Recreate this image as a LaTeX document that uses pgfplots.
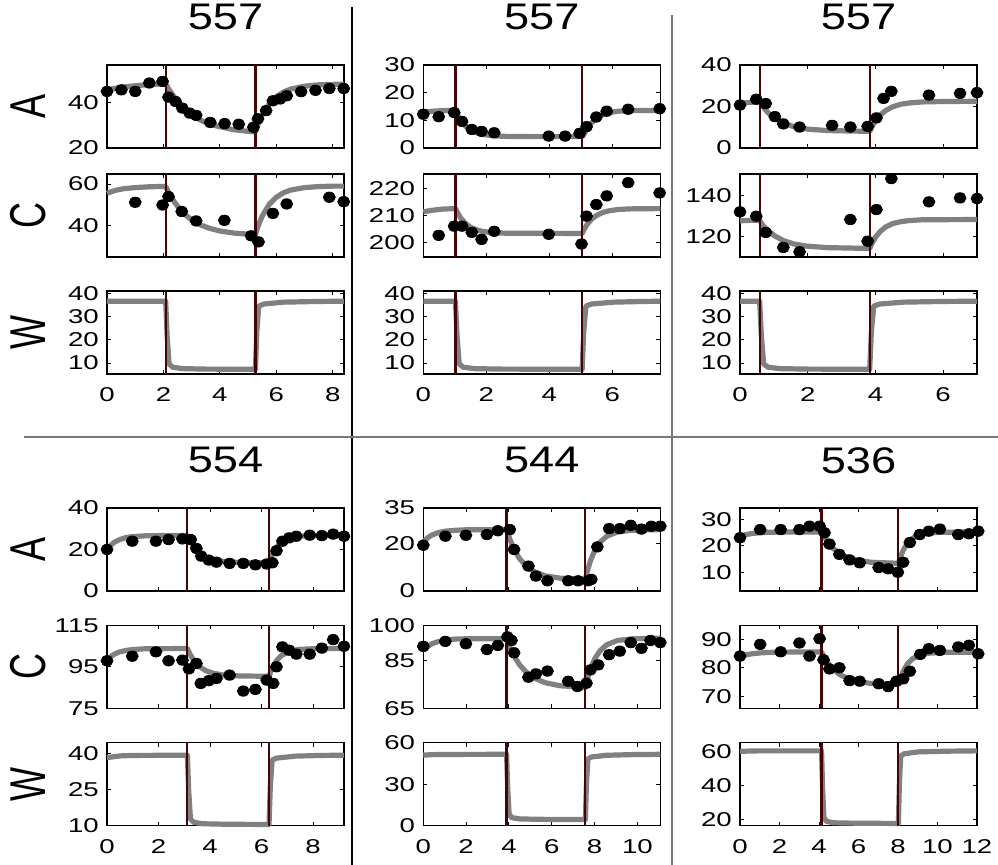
\documentclass[border=0pt]{standalone}
\usepackage{fontspec}
\setmainfont{Liberation Sans}
\usepackage{graphicx}
\usepackage{pgfplots}
\pgfplotsset{compat=1.18}
\newfontfamily\tickfam[FakeStretch=1.38]{Liberation Sans}
\newfontfamily\titfam[FakeStretch=1.22]{Liberation Sans}
\definecolor{mgray}{RGB}{128,128,128}
\definecolor{swred}{RGB}{70,5,5}
\definecolor{divgray}{RGB}{120,120,120}

\pgfplotsset{
  sub/.style={scale only axis, width=118.5pt, height=41.5pt, anchor=south west,
    clip=false, xmin=0, tick align=inside, xtick pos=both, ytick pos=both,
    major tick length=2pt, axis line style={line width=0.65pt},
    tick style={line width=0.5pt, black},
    ticklabel style={font=\tickfam\fontsize{10}{11}\selectfont},
    xticklabel style={yshift=-3.4pt}, yticklabel style={xshift=-0.6pt},
    /pgf/number format/assume math mode=true,
    ylabel style={at={(axis description cs:-0.333,0.5)}, anchor=center,
      font=\fontsize{18}{19}\selectfont},
    title style={at={(axis description cs:0.5,1.43)}, anchor=center,
      font=\titfam\fontsize{18.5}{19}\selectfont}},
  nox/.style={xticklabels={}},
  model/.style={no markers, line width=2.6pt, mgray, line join=round},
  sw/.style={no markers, line width=1.1pt, swred},
  dat/.style={only marks, mark=*, mark size=2.6pt, black, mark options={xscale=1.15}},
}
\newcommand{\lab}[1]{\scalebox{1}[1.4]{#1}}

\begin{document}
\begin{tikzpicture}
\path[use as bounding box] (0pt,0pt) rectangle (499pt,432.5pt);

% ---------- panel 1 (557) ----------
\begin{axis}[sub, nox, at={(53.5pt,358.5pt)}, xmax=8.4, ymin=20, ymax=56.4,
  xtick={0,2,4,6,8}, ytick={20,40}, ylabel={\lab{A}}, title={557}]
  \addplot[model] coordinates {(0,45.5) (0.5,46.6) (1.0,47.3) (1.5,47.8) (2.08,48.2) (2.2,45.6) (2.4,42.1) (2.6,39.0) (2.8,36.6) (3.0,34.7) (3.3,32.3) (3.6,30.6) (4.0,29.3) (4.5,28.0) (5.0,27.3) (5.26,27.0) (5.35,30.2) (5.5,34.4) (5.75,39.4) (6.0,42.5) (6.25,44.5) (6.5,45.8) (7.0,47.1) (7.5,47.7) (8.0,47.9) (8.4,48.0)};
  \addplot[sw] coordinates {(2.08,20) (2.08,56.4)};
  \addplot[sw] coordinates {(5.26,20) (5.26,56.4)};
  \addplot[dat] coordinates {(0,44.8) (0.51,45.5) (1.0,44.8) (1.5,48.5) (1.97,49.2) (2.18,42.3) (2.43,40.4) (2.67,37.5) (2.93,35.3) (3.16,34.3) (3.66,31.2) (4.17,30.7) (4.67,30.4) (5.19,29.1) (5.35,32.8) (5.64,36.4) (5.88,40.7) (6.14,41.5) (6.37,42.9) (6.88,44.7) (7.39,45.3) (7.88,46.1) (8.39,46.1)};
\end{axis}
\begin{axis}[sub, nox, at={(53.5pt,304pt)}, xmax=8.4, ymin=25.2, ymax=64.8,
  xtick={0,2,4,6,8}, ytick={40,60}, ylabel={\lab{C}}]
  \addplot[model] coordinates {(0,55.6) (0.3,57.0) (0.6,57.8) (1.0,58.3) (1.5,58.7) (2.08,58.9) (2.2,55.6) (2.4,51.2) (2.6,47.7) (2.8,45.1) (3.0,42.9) (3.3,40.6) (3.6,39.0) (4.0,37.6) (4.5,36.6) (5.0,36.1) (5.26,35.9) (5.35,39.7) (5.5,44.7) (5.75,50.3) (6.0,53.7) (6.25,55.8) (6.5,57.1) (7.0,58.3) (7.5,58.8) (8.0,59.0) (8.4,59.0)};
  \addplot[sw] coordinates {(2.08,25.2) (2.08,64.8)};
  \addplot[sw] coordinates {(5.26,25.2) (5.26,64.8)};
  \addplot[dat] coordinates {(1.0,51.3) (1.97,50.0) (2.18,54.0) (2.65,46.9) (3.16,42.4) (4.16,42.7) (5.11,35.3) (5.37,32.4) (5.88,46.0) (6.37,50.5) (7.88,53.7) (8.39,51.6)};
\end{axis}
\begin{axis}[sub, at={(53.5pt,245.5pt)}, xmax=8.4, ymin=5.3, ymax=41,
  xtick={0,2,4,6,8}, ytick={10,20,30,40}, ylabel={\lab{W}}]
  \addplot[model] coordinates {(0,36.6) (2.08,36.6) (2.13,22.0) (2.2,9.6) (2.33,8.2) (2.68,7.6) (3.5,7.4) (5.26,7.3) (5.31,23.4) (5.38,34.5) (5.56,35.4) (6.26,36.2) (7.5,36.5) (8.4,36.6)};
  \addplot[sw] coordinates {(2.08,5.3) (2.08,41)};
  \addplot[sw] coordinates {(5.26,5.3) (5.26,41)};
\end{axis}

% ---------- panel 2 (557) ----------
\begin{axis}[sub, nox, at={(211.65pt,358.5pt)}, xmax=7.52, ymin=0, ymax=30,
  xtick={0,2,4,6}, ytick={0,10,20,30}, title={557}]
  \addplot[model] coordinates {(0,13.0) (0.3,13.3) (0.6,13.5) (1.02,13.6) (1.1,11.7) (1.2,9.8) (1.35,7.8) (1.5,6.5) (1.7,5.4) (1.9,4.9) (2.2,4.4) (2.6,4.2) (3.5,4.1) (5.04,4.1) (5.1,5.0) (5.2,7.0) (5.35,9.2) (5.5,10.8) (5.7,12.1) (5.9,12.8) (6.2,13.3) (6.6,13.5) (7.52,13.6)};
  \addplot[sw] coordinates {(1.02,0) (1.02,30)};
  \addplot[sw] coordinates {(5.04,0) (5.04,30)};
  \addplot[dat] coordinates {(0,12.2) (0.49,11.3) (0.98,12.8) (1.23,9.6) (1.54,6.7) (1.85,6.0) (2.25,5.5) (3.98,4.3) (4.5,4.3) (4.96,5.3) (5.18,7.7) (5.49,11.2) (5.82,13.3) (6.5,14.0) (7.5,14.2)};
\end{axis}
\begin{axis}[sub, nox, at={(211.65pt,304pt)}, xmax=7.52, ymin=194.7, ymax=225.4,
  xtick={0,2,4,6}, ytick={200,210,220}]
  \addplot[model] coordinates {(0,211.4) (0.3,212.0) (0.6,212.4) (1.02,212.6) (1.1,210.8) (1.2,208.9) (1.35,207.0) (1.5,205.7) (1.7,204.7) (1.9,204.1) (2.2,203.7) (2.6,203.5) (5.04,203.4) (5.1,204.9) (5.2,206.8) (5.35,208.8) (5.5,210.1) (5.7,211.2) (5.9,211.8) (6.2,212.3) (6.6,212.5) (7.52,212.6)};
  \addplot[sw] coordinates {(1.02,194.7) (1.02,225.4)};
  \addplot[sw] coordinates {(5.04,194.7) (5.04,225.4)};
  \addplot[dat] coordinates {(0.49,202.7) (0.98,206.1) (1.23,206.1) (1.54,203.8) (1.85,201.2) (2.25,204.2) (3.98,203.1) (5.02,199.5) (5.18,209.8) (5.49,214.1) (5.82,217.3) (6.5,222.2) (7.5,218.4)};
\end{axis}
\begin{axis}[sub, at={(211.65pt,245.5pt)}, xmax=7.52, ymin=5.3, ymax=41,
  xtick={0,2,4,6}, ytick={10,20,30,40}]
  \addplot[model] coordinates {(0,36.6) (1.02,36.6) (1.07,22.0) (1.14,9.6) (1.27,8.2) (1.62,7.6) (2.5,7.4) (5.04,7.3) (5.09,23.4) (5.16,34.5) (5.34,35.4) (6.04,36.2) (7.0,36.5) (7.52,36.6)};
  \addplot[sw] coordinates {(1.02,5.3) (1.02,41)};
  \addplot[sw] coordinates {(5.04,5.3) (5.04,41)};
\end{axis}

% ---------- panel 3 (557) ----------
\begin{axis}[sub, nox, at={(370pt,358.5pt)}, xmax=7, ymin=0, ymax=40,
  xtick={0,2,4,6}, ytick={0,20,40}, title={557}]
  \addplot[model] coordinates {(0,21.5) (0.3,22.0) (0.58,22.2) (0.68,19.8) (0.83,17.0) (1.03,14.3) (1.28,12.0) (1.58,10.3) (1.98,9.1) (2.58,8.4) (3.83,8.0) (3.9,10.3) (4.0,13.1) (4.15,16.0) (4.3,18.0) (4.5,19.8) (4.75,21.1) (5.0,21.7) (5.4,22.2) (6.0,22.4) (7.0,22.5)};
  \addplot[sw] coordinates {(0.58,0) (0.58,40)};
  \addplot[sw] coordinates {(3.83,0) (3.83,40)};
  \addplot[dat] coordinates {(0,20.7) (0.48,23.5) (0.76,21.4) (1.03,15.1) (1.28,11.6) (1.76,10.1) (2.72,10.9) (3.26,10.1) (3.77,10.4) (4.03,14.5) (4.24,23.9) (4.47,27.3) (5.58,25.5) (6.5,26.3) (7.0,26.7)};
\end{axis}
\begin{axis}[sub, nox, at={(370pt,304pt)}, xmax=7, ymin=110.3, ymax=150.2,
  xtick={0,2,4,6}, ytick={120,140}]
  \addplot[model] coordinates {(0,127.7) (0.3,127.9) (0.58,128.0) (0.68,125.3) (0.83,123.0) (1.03,120.4) (1.28,118.2) (1.58,116.6) (1.98,115.5) (2.58,114.8) (3.83,114.4) (3.9,116.9) (4.0,119.8) (4.15,122.7) (4.3,124.7) (4.5,126.3) (4.75,127.3) (5.0,127.8) (5.4,128.2) (7.0,128.3)};
  \addplot[sw] coordinates {(0.58,110.3) (0.58,150.2)};
  \addplot[sw] coordinates {(3.83,110.3) (3.83,150.2)};
  \addplot[dat] coordinates {(0,132.0) (0.48,129.9) (0.76,122.1) (1.28,114.9) (1.76,112.8) (3.26,128.3) (3.77,117.9) (4.03,133.1) (4.47,148.0) (5.58,136.8) (6.5,138.7) (7.0,138.4)};
\end{axis}
\begin{axis}[sub, at={(370pt,245.5pt)}, xmax=7, ymin=5.3, ymax=41,
  xtick={0,2,4,6}, ytick={10,20,30,40}]
  \addplot[model] coordinates {(0,36.6) (0.58,36.6) (0.63,22.0) (0.7,9.6) (0.83,8.2) (1.18,7.6) (2.0,7.4) (3.83,7.3) (3.88,23.4) (3.95,34.5) (4.13,35.4) (4.83,36.2) (6.0,36.5) (7.0,36.6)};
  \addplot[sw] coordinates {(0.58,5.3) (0.58,41)};
  \addplot[sw] coordinates {(3.83,5.3) (3.83,41)};
\end{axis}

% ---------- panel 4 (554) ----------
\begin{axis}[sub, nox, at={(53.5pt,137pt)}, xmax=9.2, ymin=0, ymax=40,
  xtick={0,2,4,6,8}, ytick={0,20,40}, ylabel={\lab{A}}, title={554}]
  \addplot[model] coordinates {(0,20.0) (0.15,22.1) (0.3,23.6) (0.5,24.8) (0.75,25.8) (1.0,26.2) (1.5,26.6) (2.0,26.7) (3.12,26.8) (3.22,24.2) (3.37,21.1) (3.57,18.5) (3.82,16.4) (4.12,15.1) (4.52,14.2) (5.12,13.8) (6.29,13.6) (6.36,16.0) (6.46,18.7) (6.61,21.5) (6.76,23.4) (6.96,24.8) (7.21,25.9) (7.49,26.4) (7.99,26.7) (9.2,26.8)};
  \addplot[sw] coordinates {(3.12,0) (3.12,40)};
  \addplot[sw] coordinates {(6.29,0) (6.29,40)};
  \addplot[dat] coordinates {(0,20.0) (0.98,24.0) (1.9,24.0) (2.39,24.8) (2.93,25.1) (3.25,24.8) (3.47,20.5) (3.66,16.8) (3.95,14.9) (4.25,13.9) (4.76,13.3) (5.29,13.3) (5.76,12.6) (6.2,13.0) (6.42,13.6) (6.58,19.4) (6.81,24.0) (7.07,25.6) (7.35,26.4) (7.87,26.9) (8.34,26.7) (8.78,27.4) (9.2,26.4)};
\end{axis}
\begin{axis}[sub, nox, at={(53.5pt,78.35pt)}, xmax=9.2, ymin=75, ymax=115,
  xtick={0,2,4,6,8}, ytick={75,95,115}, ylabel={\lab{C}}]
  \addplot[model] coordinates {(0,98.2) (0.15,99.9) (0.3,101.2) (0.5,102.2) (0.75,102.9) (1.0,103.3) (1.5,103.7) (3.12,103.8) (3.22,101.1) (3.37,98.0) (3.57,95.3) (3.82,93.2) (4.12,91.9) (4.52,91.0) (5.12,90.6) (6.29,90.4) (6.36,92.8) (6.46,95.6) (6.61,98.4) (6.76,100.3) (6.96,101.8) (7.21,102.9) (7.49,103.4) (7.99,103.7) (9.2,103.8)};
  \addplot[sw] coordinates {(3.12,75) (3.12,115)};
  \addplot[sw] coordinates {(6.29,75) (6.29,115)};
  \addplot[dat] coordinates {(0,97.9) (0.98,100.1) (1.9,102.2) (2.39,97.9) (2.93,98.2) (3.18,94.0) (3.47,96.6) (3.64,87.0) (3.95,88.3) (4.25,89.4) (4.76,91.0) (5.29,83.3) (5.76,84.1) (6.2,88.6) (6.45,87.0) (6.58,95.0) (6.81,104.6) (7.07,103.0) (7.35,101.1) (7.87,101.1) (8.34,104.0) (8.78,108.1) (9.2,104.9)};
\end{axis}
\begin{axis}[sub, at={(53.5pt,19.65pt)}, xmax=9.2, ymin=10, ymax=44.5,
  xtick={0,2,4,6,8}, ytick={10,25,40}, ylabel={\lab{W}}]
  \addplot[model] coordinates {(0,38.3) (0.5,39.0) (1.0,39.2) (3.12,39.3) (3.17,24.9) (3.24,12.8) (3.37,11.4) (3.72,10.8) (4.6,10.6) (6.29,10.5) (6.34,26.3) (6.41,37.3) (6.59,38.1) (7.29,38.9) (8.3,39.2) (9.2,39.3)};
  \addplot[sw] coordinates {(3.12,10) (3.12,44.5)};
  \addplot[sw] coordinates {(6.29,10) (6.29,44.5)};
\end{axis}

% ---------- panel 5 (544) ----------
\begin{axis}[sub, nox, at={(211.65pt,137pt)}, xmax=11.07, ymin=0, ymax=35,
  xtick={0,2,4,6,8,10}, ytick={0,20,35}, title={544}]
  \addplot[model] coordinates {(0,20.7) (0.2,22.4) (0.4,23.6) (0.7,24.6) (1.0,25.2) (1.5,25.6) (2.0,25.8) (3.89,25.9) (4.04,21.9) (4.24,17.6) (4.49,13.7) (4.79,10.7) (5.19,8.1) (5.69,6.4) (6.39,5.4) (7.57,4.9) (7.67,8.7) (7.82,13.1) (8.02,17.3) (8.27,20.7) (8.57,23.1) (9.07,24.9) (9.77,25.6) (11.07,25.9)};
  \addplot[sw] coordinates {(3.89,0) (3.89,35)};
  \addplot[sw] coordinates {(7.57,0) (7.57,35)};
  \addplot[dat] coordinates {(0,19.3) (1.03,23.1) (1.99,23.5) (2.97,23.8) (3.48,25.4) (4.04,25.9) (4.24,17.5) (4.91,10.5) (5.26,6.3) (5.8,4.3) (6.77,4.3) (7.23,4.3) (7.7,4.3) (7.85,4.9) (8.13,18.6) (8.68,26.3) (9.18,26.3) (9.69,27.7) (10.19,26.1) (10.65,27.3) (11.07,27.3)};
\end{axis}
\begin{axis}[sub, nox, at={(211.65pt,78.35pt)}, xmax=11.07, ymin=65, ymax=100,
  xtick={0,2,4,6,8,10}, ytick={65,85,100}]
  \addplot[model] coordinates {(0,89.4) (0.2,91.0) (0.4,92.2) (0.7,93.1) (1.0,93.7) (1.5,94.2) (2.0,94.3) (3.89,94.4) (4.04,90.9) (4.24,87.0) (4.49,83.4) (4.79,80.4) (5.19,77.7) (5.69,75.8) (6.39,74.5) (7.57,73.8) (7.67,77.6) (7.82,81.9) (8.02,86.1) (8.27,89.4) (8.57,91.8) (9.07,93.6) (9.77,94.3) (11.07,94.6)};
  \addplot[sw] coordinates {(3.89,65) (3.89,100)};
  \addplot[sw] coordinates {(7.57,65) (7.57,100)};
  \addplot[dat] coordinates {(0,91.1) (1.03,93.2) (1.99,92.2) (2.97,89.8) (3.48,91.5) (3.93,95.1) (4.12,93.6) (4.24,88.4) (4.91,78.1) (5.26,79.5) (5.8,80.7) (6.77,76.4) (7.2,74.2) (7.62,75.6) (7.81,81.2) (8.17,83.3) (8.68,87.6) (9.18,89.1) (9.69,92.7) (10.19,90.3) (10.61,93.6) (11.07,92.7)};
\end{axis}
\begin{axis}[sub, at={(211.65pt,19.65pt)}, xmax=11.07, ymin=0, ymax=60,
  xtick={0,2,4,6,8,10}, ytick={0,30,60}]
  \addplot[model] coordinates {(0,51.0) (0.5,51.4) (1.0,51.5) (3.89,51.6) (3.94,28.0) (4.01,8.2) (4.14,5.8) (4.49,4.9) (5.4,4.6) (7.57,4.4) (7.62,30.4) (7.69,48.3) (7.87,49.7) (8.57,50.9) (9.8,51.4) (11.07,51.6)};
  \addplot[sw] coordinates {(3.89,0) (3.89,60)};
  \addplot[sw] coordinates {(7.57,0) (7.57,60)};
\end{axis}

% ---------- panel 6 (536) ----------
\begin{axis}[sub, nox, at={(370pt,137pt)}, xmax=12, ymin=2.9, ymax=34.4,
  xtick={0,2,4,6,8,10,12}, ytick={10,20,30}, title={536}]
  \addplot[model] coordinates {(0,23.7) (0.3,24.3) (0.6,24.7) (1.0,25.0) (1.5,25.2) (2.5,25.3) (4.13,25.3) (4.28,23.3) (4.48,21.0) (4.73,19.0) (5.03,17.2) (5.43,15.7) (5.93,14.6) (6.63,13.8) (8.02,13.4) (8.12,15.7) (8.27,18.5) (8.47,20.9) (8.72,22.8) (9.02,24.0) (9.52,24.9) (10.22,25.2) (12,25.3)};
  \addplot[sw] coordinates {(4.13,2.9) (4.13,34.4)};
  \addplot[sw] coordinates {(8.02,2.9) (8.02,34.4)};
  \addplot[dat] coordinates {(0,23.1) (1.02,26.2) (2.06,26.2) (3.01,26.2) (3.52,27.5) (4.03,27.5) (4.28,25.0) (4.53,20.7) (5.03,16.8) (5.55,14.7) (6.06,13.6) (7.02,11.8) (7.5,11.3) (7.99,10.0) (8.26,13.8) (8.6,21.3) (9.1,24.3) (9.56,25.6) (10.12,26.4) (11.05,24.3) (11.59,24.6) (12.06,25.6)};
\end{axis}
\begin{axis}[sub, nox, at={(370pt,78.35pt)}, xmax=12, ymin=65.8, ymax=94.9,
  xtick={0,2,4,6,8,10,12}, ytick={70,80,90}]
  \addplot[model] coordinates {(0,83.8) (0.3,84.5) (0.6,84.9) (1.0,85.2) (1.5,85.4) (2.5,85.5) (4.13,85.5) (4.28,83.5) (4.48,81.4) (4.73,79.4) (5.03,77.7) (5.43,76.3) (5.93,75.2) (6.63,74.5) (8.02,74.1) (8.12,76.3) (8.27,78.9) (8.47,81.3) (8.72,83.1) (9.02,84.2) (9.52,85.1) (10.22,85.4) (12,85.5)};
  \addplot[sw] coordinates {(4.13,65.8) (4.13,94.9)};
  \addplot[sw] coordinates {(8.02,65.8) (8.02,94.9)};
  \addplot[dat] coordinates {(0,84.1) (1.02,88.2) (2.06,85.6) (3.01,88.7) (3.52,84.1) (4.03,90.2) (4.23,82.8) (4.53,79.6) (5.03,80.0) (5.55,75.5) (6.06,75.3) (7.02,74.4) (7.5,73.4) (7.92,75.3) (8.26,76.1) (8.6,78.8) (9.13,84.7) (9.56,86.7) (10.12,86.1) (11.05,87.3) (11.59,87.9) (12.06,84.9)};
\end{axis}
\begin{axis}[sub, at={(370pt,19.65pt)}, xmax=12, ymin=16.3, ymax=65.1,
  xtick={0,2,4,6,8,10,12}, ytick={20,40,60}]
  \addplot[model] coordinates {(0,60.0) (0.5,60.2) (1.0,60.3) (4.13,60.3) (4.18,39.0) (4.25,21.0) (4.38,18.9) (4.73,18.0) (5.6,17.8) (8.02,17.6) (8.07,41.1) (8.14,57.3) (8.32,58.6) (9.02,59.7) (10.5,60.1) (12,60.3)};
  \addplot[sw] coordinates {(4.13,16.3) (4.13,65.1)};
  \addplot[sw] coordinates {(8.02,16.3) (8.02,65.1)};
\end{axis}

% panel dividers
\draw[black, line width=0.6pt] (176pt,0pt) -- (176pt,429pt);
\draw[divgray, line width=0.6pt] (336pt,0pt) -- (336pt,425pt);
\draw[divgray, line width=1pt] (12pt,214pt) -- (499pt,214pt);
\end{tikzpicture}
\end{document}
